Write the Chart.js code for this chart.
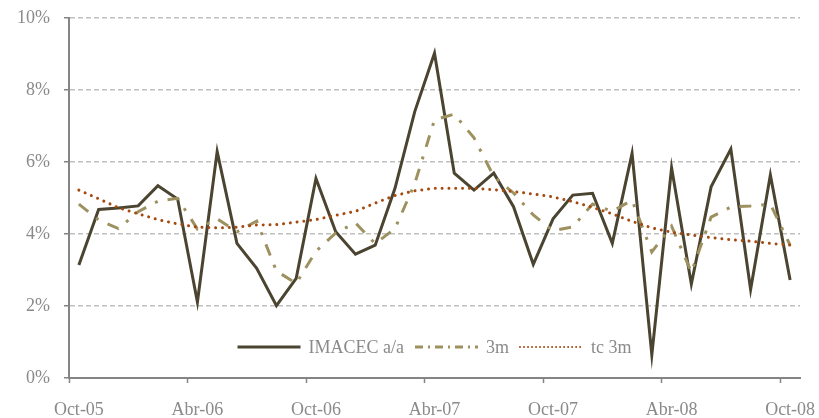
<!DOCTYPE html>
<html>
<head>
<meta charset="utf-8">
<script src="https://cdn.jsdelivr.net/npm/chart.js@4/dist/chart.umd.min.js"></script>
<style>
  html, body { margin: 0; padding: 0; background: #fff; }
  #wrap { position: relative; width: 819px; height: 418px; }
</style>
</head>
<body>
<div id="wrap"><canvas id="myChart"></canvas></div>
<script>
const months = [
  'Oct-05', 'Nov-05', 'Dic-05', 'Ene-06', 'Feb-06', 'Mar-06', 'Abr-06', 'May-06', 'Jun-06', 'Jul-06',
  'Ago-06', 'Sep-06', 'Oct-06', 'Nov-06', 'Dic-06', 'Ene-07', 'Feb-07', 'Mar-07', 'Abr-07', 'May-07',
  'Jun-07', 'Jul-07', 'Ago-07', 'Sep-07', 'Oct-07', 'Nov-07', 'Dic-07', 'Ene-08', 'Feb-08', 'Mar-08',
  'Abr-08', 'May-08', 'Jun-08', 'Jul-08', 'Ago-08', 'Sep-08', 'Oct-08'
];
const imacecYoY = [3.14, 4.68, 4.72, 4.78, 5.34, 4.97, 2.11, 6.29, 3.74, 3.05, 2.01, 2.77, 5.54, 4.06, 3.44, 3.69, 5.27, 7.40, 9.02, 5.69, 5.22, 5.69, 4.76, 3.16, 4.42, 5.08, 5.13, 3.74, 6.24, 0.64, 5.84, 2.61, 5.31, 6.36, 2.46, 5.64, 2.72];
const avg3m = [4.83, 4.39, 4.15, 4.62, 4.91, 4.99, 4.14, 4.42, 4.06, 4.36, 2.97, 2.63, 3.52, 4.03, 4.31, 3.73, 4.15, 5.40, 7.17, 7.33, 6.67, 5.60, 5.14, 4.53, 4.09, 4.20, 4.83, 4.63, 4.94, 3.50, 4.22, 2.94, 4.47, 4.75, 4.78, 4.83, 3.69];
const trend3m = [5.22, 4.98, 4.73, 4.56, 4.40, 4.28, 4.19, 4.17, 4.19, 4.25, 4.26, 4.33, 4.40, 4.52, 4.63, 4.86, 5.07, 5.20, 5.27, 5.27, 5.27, 5.23, 5.18, 5.11, 5.03, 4.90, 4.74, 4.56, 4.35, 4.17, 4.05, 3.97, 3.90, 3.84, 3.80, 3.74, 3.69];
const yTicks = [0, 2, 4, 6, 8, 10];

const fontFamily = '"Liberation Serif", "Times New Roman", serif';
const textGray = '#8a8a8a';
const axisGray = '#858585';

// legend drawn inside the plot, near the bottom
const insideLegend = {
  id: 'insideLegend',
  afterDatasetsDraw(chart) {
    const ctx = chart.ctx;
    const area = chart.chartArea;
    const sample = 63, gapText = 8, gapItem = 11;
    ctx.save();
    ctx.font = '18px ' + fontFamily;
    const items = chart.data.datasets.map(ds => ({ ds: ds, w: ctx.measureText(ds.label).width }));
    let total = 0;
    items.forEach(it => { total += sample + gapText + it.w; });
    total += gapItem * (items.length - 1);
    let x = (area.left + area.right) / 2 - total / 2;
    const y = area.bottom - 31;
    items.forEach(it => {
      const ds = it.ds;
      ctx.save();
      ctx.strokeStyle = ds.borderColor;
      ctx.lineWidth = ds.legendWidth || ds.borderWidth;
      ctx.lineCap = ds.borderCapStyle || 'butt';
      ctx.setLineDash(ds.legendDash || ds.borderDash || []);
      ctx.beginPath();
      ctx.moveTo(x, y);
      ctx.lineTo(x + sample, y);
      ctx.stroke();
      ctx.restore();
      x += sample + gapText;
      ctx.fillStyle = textGray;
      ctx.textBaseline = 'middle';
      ctx.textAlign = 'left';
      ctx.fillText(ds.label, x, y + 1);
      x += it.w + gapItem;
    });
    ctx.restore();
  }
};

const chartCanvas = document.getElementById('myChart').getContext('2d');

const chart = new Chart(chartCanvas, {
  type: 'line',
  data: {
    labels: months,
    datasets: [
      {
        label: 'IMACEC a/a',
        data: imacecYoY,
        borderColor: '#4b4430',
        borderWidth: 3,
        borderJoinStyle: 'miter',
        pointRadius: 0,
        tension: 0,
        order: 3
      },
      {
        label: '3m',
        data: avg3m,
        borderColor: '#9d9160',
        borderWidth: 3,
        borderDash: [12, 10, 3, 10],
        legendDash: [8, 5, 2, 5],
        pointRadius: 0,
        tension: 0,
        order: 2
      },
      {
        label: 'tc 3m',
        data: trend3m,
        borderColor: '#a5490f',
        borderWidth: 3,
        borderDash: [0.01, 6.8],
        borderCapStyle: 'round',
        legendDash: [0.01, 4],
        legendWidth: 2,
        pointRadius: 0,
        tension: 0,
        order: 1
      }
    ]
  },
  options: {
    responsive: true,
    maintainAspectRatio: false,
    animation: false,
    layout: { padding: { top: 18, right: 19, left: 0, bottom: 0 } },
    plugins: {
      legend: { display: false },
      tooltip: { enabled: false }
    },
    scales: {
      x: {
        offset: true,
        afterFit: scale => {
          scale.height = 40;
          scale.paddingLeft = 0;
          scale.paddingRight = 0;
        },
        border: { display: true, color: axisGray, width: 2 },
        grid: {
          offset: true,
          drawOnChartArea: false,
          drawTicks: true,
          tickLength: 5,
          tickWidth: 1.5,
          tickColor: ctx => (ctx.index % 6 === 0 ? axisGray : 'rgba(0,0,0,0)')
        },
        ticks: {
          autoSkip: false,
          maxRotation: 0,
          minRotation: 0,
          padding: 16,
          color: textGray,
          font: { family: fontFamily, size: 18 },
          callback: (val, i) => (i % 6 === 0 ? months[i] : '')
        }
      },
      y: {
        min: 0,
        max: 10,
        afterFit: scale => {
          scale.width = 69;
          scale.paddingTop = 0;
          scale.paddingBottom = 0;
        },
        afterBuildTicks: scale => { scale.ticks = yTicks.map(v => ({ value: v })); },
        border: { display: true, color: axisGray, width: 2, dash: [5, 3] },
        grid: {
          color: ctx => (ctx.tick && ctx.tick.value === 0 ? 'rgba(0,0,0,0)' : '#c0c0c0'),
          lineWidth: 1.5,
          drawTicks: true,
          tickLength: 5,
          tickWidth: 1.5,
          tickColor: axisGray,
          tickBorderDash: [10, 0]
        },
        ticks: {
          padding: 14,
          color: textGray,
          font: { family: fontFamily, size: 18 },
          callback: v => v + '%'
        }
      }
    }
  },
  plugins: [insideLegend]
});
</script>
</body>
</html>
